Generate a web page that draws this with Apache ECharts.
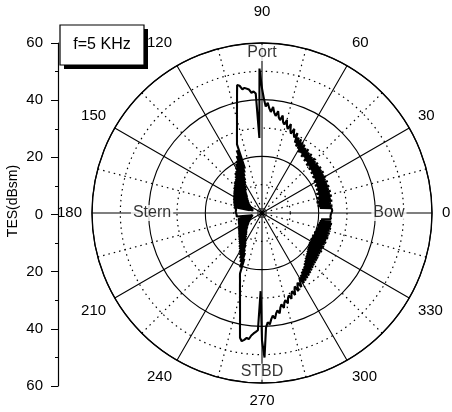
<!DOCTYPE html>
<html>
<head>
<meta charset="utf-8">
<script src="https://cdn.jsdelivr.net/npm/echarts@6/dist/echarts.min.js"></script>
<style>
html,body{margin:0;padding:0;background:#fff;}
#chart{width:452px;height:412px;}
</style>
</head>
<body>
<div id="chart"></div>
<script>
// TES (dBsm), 1 degree steps, angle 0 = Bow, 90 = Port
const tesDeg000to089 = [
  24.5, 24.2, 24.8, 24.3, 24.6, 20.5, 25.0, 19.8, 24.6, 20.2,
  25.2, 19.6, 24.8, 20.4, 25.4, 20.0, 24.9, 21.0, 25.5, 20.3,
  25.1, 21.2, 25.6, 20.8, 25.2, 21.5, 25.8, 21.0, 25.4, 21.8,
  26.0, 21.4, 25.6, 22.2, 26.2, 21.8, 25.9, 22.6, 26.4, 22.2,
  26.0, 23.0, 26.5, 22.6, 26.2, 23.4, 26.8, 23.0, 26.5, 24.0,
  27.2, 23.6, 27.0, 24.6, 27.8, 24.2, 27.6, 25.2, 28.4, 25.0,
  28.8, 26.0, 29.4, 26.4, 29.6, 27.4, 30.8, 29.0, 30.0, 31.8,
  29.8, 30.8, 33.0, 31.0, 32.0, 34.0, 32.2, 33.0, 35.2, 33.4,
  34.2, 36.4, 34.6, 35.6, 37.6, 35.8, 37.0, 39.0, 37.6, 40.2
];
const tesDeg090to179 = [
  44.0, 51.0, 26.5, 42.2, 43.0, 42.6, 43.8, 43.2, 44.6, 44.2,
  45.6, 46.0, 42.4, 39.2, 36.5, 34.1, 32.0, 30.2, 28.6, 27.1,
  25.8, 16.8, 23.8, 15.5, 22.0, 14.4, 20.5, 13.0, 19.6, 12.0,
  18.4, 11.4, 17.4, 10.4, 17.0, 9.8, 16.0, 9.4, 15.2, 8.7,
  14.8, 8.0, 14.6, 7.6, 14.0, 7.4, 13.6, 6.8, 13.4, 6.4,
  12.9, 6.1, 12.6, 5.7, 12.4, 5.5, 12.0, 5.1, 11.9, 4.7,
  11.6, 4.5, 11.4, 4.1, 11.3, 3.9, 11.0, 3.7, 10.9, 3.5,
  10.7, 3.3, 10.5, 3.2, 10.4, 3.4, 10.1, 4.5, 9.8, 9.4,
  9.7, 9.3, 9.6, 9.2, 9.5, 9.3, 9.4, 9.1, 9.3, 9.2
];
const tesDeg180to269 = [
  9.3, 9.1, 9.2, 9.0, 9.2, 8.9, 9.1, 8.8, 9.0, 8.7,
  8.9, 8.6, 8.8, 3.6, 8.7, 3.3, 8.8, 3.5, 8.9, 3.7,
  9.0, 3.9, 9.1, 4.1, 9.2, 4.3, 9.3, 4.5, 9.4, 4.7,
  9.6, 5.0, 9.8, 5.3, 10.0, 5.6, 10.2, 5.9, 10.5, 6.2,
  10.8, 6.6, 11.1, 7.0, 11.4, 7.4, 11.8, 7.8, 12.2, 8.2,
  12.6, 8.6, 13.1, 9.0, 13.6, 9.8, 14.4, 10.4, 15.0, 11.0,
  15.9, 11.8, 16.8, 12.6, 17.8, 14.2, 18.9, 15.3, 20.7, 17.3,
  22.7, 23.9, 25.1, 26.6, 28.2, 30.0, 32.1, 34.5, 37.3, 40.7,
  44.7, 45.8, 45.2, 44.4, 44.8, 43.4, 42.6, 42.0, 41.4, 27.6
];
const tesDeg270to359 = [
  45.0, 51.0, 40.5, 38.6, 39.4, 37.6, 36.4, 37.6, 35.8, 34.8,
  36.0, 34.0, 33.0, 34.4, 32.6, 31.8, 33.2, 31.4, 30.6, 32.0,
  30.4, 29.6, 31.2, 29.4, 28.4, 30.4, 28.6, 27.6, 29.6, 27.8,
  26.4, 28.8, 25.8, 28.4, 25.0, 28.0, 24.4, 27.6, 24.0, 27.2,
  23.2, 26.8, 22.6, 26.4, 22.0, 26.0, 21.6, 25.8, 21.2, 25.6,
  20.8, 25.4, 20.4, 25.2, 20.2, 25.0, 19.8, 25.2, 19.6, 24.8,
  19.8, 25.0, 19.4, 24.8, 19.6, 25.0, 19.4, 24.6, 19.8, 25.0,
  19.6, 24.8, 20.0, 25.0, 19.8, 24.6, 20.2, 25.0, 20.0, 24.8,
  20.4, 25.0, 20.6, 24.6, 21.0, 24.4, 24.8, 24.2, 24.6, 24.3
];
const sectorStartDeg = [0, 90, 180, 270];
const sectorValues = [tesDeg000to089, tesDeg090to179, tesDeg180to269, tesDeg270to359];

const angleTickLabels = [0, 30, 60, 90, 120, 150, 180, 210, 240, 270, 300, 330];
const radiusMax = 60;
const sideAxisTicks = [-60, -40, -20, 0, 20, 40, 60];

const shipLabels = ['Port', 'STBD', 'Stern', 'Bow'];
const shipLabelRadius = [56.5, 56, 38.8, 44.8];
const shipLabelAngle = [90, 270, 180, 0];
const legendText = 'f=5 KHz';
const yAxisTitle = 'TES(dBsm)';

const curve = [];
sectorValues.forEach((vals, s) => {
  vals.forEach((v, i) => curve.push([v, sectorStartDeg[s] + i]));
});
curve.push([tesDeg000to089[0], 360]);

const chart = echarts.init(document.getElementById('chart'), null, {renderer: 'canvas'});
const FONT = 'Liberation Sans, Arial, sans-serif';

chart.setOption({
  animation: false,
  backgroundColor: '#fff',
  polar: {center: [262, 213], radius: 170},
  angleAxis: {
    type: 'value', min: 0, max: 360, interval: 30, startAngle: 0, clockwise: false,
    axisLine: {show: true, lineStyle: {color: '#000', width: 1.3}},
    axisTick: {show: false},
    minorTick: {show: false, splitNumber: 2},
    splitLine: {show: true, lineStyle: {color: '#000', width: 1.1}},
    minorSplitLine: {show: true, lineStyle: {color: '#000', width: 1.2, type: [1.5, 4]}},
    axisLabel: {
      show: true, margin: 10, color: '#000', fontSize: 15, fontFamily: FONT,
      formatter: v => {
        if (angleTickLabels.indexOf(v) < 0) return '';
        if (v === 90) return '{hi|' + v + '}';
        if (v === 60 || v === 120) return '{mid|' + v + '}';
        return '{n|' + v + '}';
      },
      rich: {
        hi: {fontSize: 15, fontFamily: FONT, color: '#000', padding: [0, 0, 14, 0]},
        mid: {fontSize: 15, fontFamily: FONT, color: '#000', padding: [0, 0, 7, 0]},
        n: {fontSize: 15, fontFamily: FONT, color: '#000'}
      }
    }
  },
  radiusAxis: {
    type: 'value', min: 0, max: radiusMax, interval: 20,
    axisLine: {show: false}, axisTick: {show: false}, axisLabel: {show: false},
    minorTick: {show: false, splitNumber: 2},
    splitLine: {show: true, lineStyle: {color: '#000', width: 1.1}},
    minorSplitLine: {show: true, lineStyle: {color: '#000', width: 1.2, type: [1.5, 4]}}
  },
  grid: {left: 58, top: 43, width: 1, height: 343},
  xAxis: {type: 'value', show: false, min: 0, max: 1},
  yAxis: {
    type: 'value', min: sideAxisTicks[0], max: sideAxisTicks[sideAxisTicks.length - 1], interval: 20,
    position: 'left',
    axisLine: {show: true, lineStyle: {color: '#000', width: 1.2}},
    axisTick: {show: true, length: 7, lineStyle: {color: '#000'}},
    minorTick: {show: true, splitNumber: 2, length: 3, lineStyle: {color: '#000'}},
    splitLine: {show: false},
    axisLabel: {margin: 15, color: '#000', fontSize: 15, fontFamily: FONT, formatter: v => String(Math.abs(v))}
  },
  graphic: [
    {type: 'rect', z: 100, shape: {x: 64, y: 29, width: 84, height: 40}, style: {fill: '#000'}},
    {type: 'rect', z: 101, shape: {x: 60, y: 25, width: 84, height: 40}, style: {fill: '#fff', stroke: '#000', lineWidth: 1.2}},
    {type: 'text', z: 102, x: 102, y: 45, style: {text: legendText, fill: '#000', font: '16px ' + FONT, align: 'center', verticalAlign: 'middle'}},
    {type: 'text', z: 102, x: 13, y: 201, rotation: Math.PI / 2, style: {text: yAxisTitle, fill: '#000', font: '14px ' + FONT, align: 'center', verticalAlign: 'middle'}}
  ],
  series: [
    {
      type: 'line', coordinateSystem: 'polar', data: curve,
      showSymbol: false, symbol: 'none', smooth: false, z: 5,
      lineStyle: {color: '#000', width: 2.1}
    },
    {
      type: 'scatter', coordinateSystem: 'polar', z: 10, symbolSize: 0,
      data: shipLabels.map((t, i) => [shipLabelRadius[i], shipLabelAngle[i]]),
      label: {
        show: true, position: 'inside', color: '#000', fontSize: 16, fontFamily: FONT,
        backgroundColor: '#fff', padding: [0, 2],
        formatter: p => shipLabels[p.dataIndex]
      }
    }
  ]
});
</script>
</body>
</html>
